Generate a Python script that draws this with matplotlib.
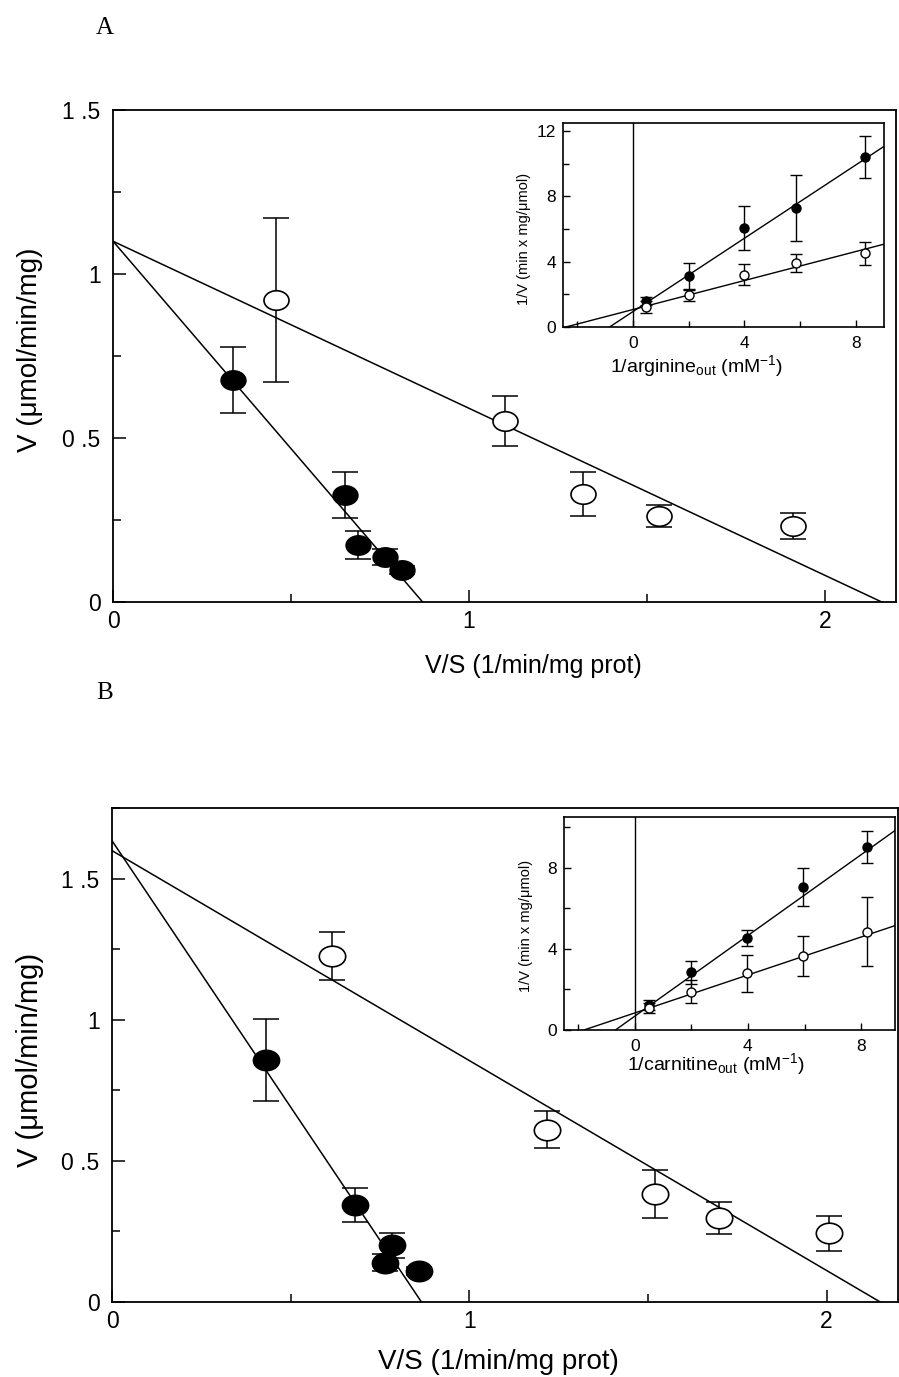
import matplotlib
matplotlib.use('Agg')
import matplotlib.pyplot as plt
import numpy as np
from matplotlib.path import Path
from matplotlib.transforms import Affine2D
from matplotlib.ticker import MultipleLocator

plt.rcParams['font.family'] = ['Liberation Sans', 'DejaVu Sans']
plt.rcParams['mathtext.fontset'] = 'custom'
plt.rcParams['mathtext.rm'] = 'Liberation Sans'
plt.rcParams['mathtext.it'] = 'Liberation Sans'

# ---- panel A (arginine), Eadie-Hofstee ----
a_filled_x = [0.336, 0.652, 0.688, 0.764, 0.812]
a_filled_y = [0.677, 0.326, 0.174, 0.137, 0.098]
a_filled_err = [0.100, 0.070, 0.043, 0.025, 0.012]
a_open_x = [0.457, 1.100, 1.320, 1.535, 1.910]
a_open_y = [0.921, 0.552, 0.329, 0.262, 0.232]
a_open_err = [0.250, 0.077, 0.068, 0.034, 0.040]
# (y intercept, x intercept)
a_filled_fit = (1.10, 0.87)
a_open_fit = (1.10, 2.16)

# inset A, Lineweaver-Burk
ia_x = [0.48, 2.0, 4.0, 5.84, 8.33]
ia_filled_y = [1.57, 3.1, 6.08, 7.29, 10.4]
ia_filled_err = [0.25, 0.8, 1.35, 2.05, 1.3]
ia_open_y = [1.22, 1.94, 3.2, 3.94, 4.53]
ia_open_err = [0.35, 0.33, 0.65, 0.54, 0.7]
# (intercept, slope)
ia_filled_fit = (0.94, 1.125)
ia_open_fit = (1.07, 0.445)

# ---- panel B (carnitine) ----
b_filled_x = [0.430, 0.679, 0.785, 0.765, 0.860]
b_filled_y = [0.858, 0.345, 0.201, 0.139, 0.109]
b_filled_err = [0.145, 0.060, 0.045, 0.030, 0.015]
b_open_x = [0.615, 1.218, 1.520, 1.698, 2.006]
b_open_y = [1.225, 0.610, 0.384, 0.296, 0.244]
b_open_err = [0.085, 0.065, 0.085, 0.057, 0.062]
b_filled_fit = (1.634, 0.866)
b_open_fit = (1.599, 2.15)

ib_x = [0.52, 1.99, 3.98, 5.94, 8.2]
ib_filled_y = [1.23, 2.84, 4.52, 7.06, 9.03]
ib_filled_err = [0.25, 0.55, 0.4, 0.93, 0.8]
ib_open_y = [1.07, 1.89, 2.79, 3.65, 4.84]
ib_open_err = [0.25, 0.55, 0.93, 1.0, 1.7]
ib_filled_fit = (0.68, 0.995)
ib_open_fit = (0.84, 0.468)

ellipse = Path.unit_circle().transformed(Affine2D().scale(1.0, 0.78))


def main_panel(ax, fx, fy, ferr, ox, oy, oerr, ffit, ofit, ymax, ms):
    for vmax, xint in (ffit, ofit):
        ax.plot([0, xint], [vmax, 0], color='k', lw=1.1, zorder=2)
    ax.errorbar(fx, fy, yerr=ferr, fmt='none', ecolor='k', elinewidth=1.1,
                capsize=9.5, capthick=1.1, zorder=3)
    ax.errorbar(ox, oy, yerr=oerr, fmt='none', ecolor='k', elinewidth=1.1,
                capsize=9.5, capthick=1.1, zorder=3)
    ax.plot(fx, fy, ls='none', marker=ellipse, ms=ms, mfc='k', mec='k', zorder=4)
    ax.plot(ox, oy, ls='none', marker=ellipse, ms=ms, mfc='white', mec='k',
            mew=1.2, zorder=4)
    ax.set_xlim(0, 2.2)
    ax.set_ylim(0, ymax)
    ax.set_xticks([0, 1, 2])
    ax.set_xticklabels(['0', '1', '2'])
    ax.xaxis.set_minor_locator(MultipleLocator(0.5))
    ax.set_yticks([0, 0.5, 1, 1.5])
    ax.set_yticklabels(['0', '0 .5', '1', '1 .5'])
    ax.yaxis.set_minor_locator(MultipleLocator(0.25))
    ax.tick_params(which='both', direction='in', top=False, right=False,
                   labelsize=16.5, width=1.1)
    ax.tick_params(which='major', length=9)
    ax.tick_params(which='minor', length=6)
    ax.tick_params(axis='x', which='major', pad=5.5)
    ax.tick_params(axis='y', which='major', pad=9)
    for s in ax.spines.values():
        s.set_linewidth(1.3)


def inset_panel(ax, x, fy, ferr, oy, oerr, ffit, ofit, xlim, ylim, xlabel,
                xlab_pos, ylab_pos):
    ax.axvline(0, color='k', lw=1.0)
    for b, m in (ffit, ofit):
        x0 = -b / m
        ax.plot([x0, xlim[1]], [0, b + m * xlim[1]], color='k', lw=1.0, zorder=2)
    ax.errorbar(x, fy, yerr=ferr, fmt='none', ecolor='k', elinewidth=1.0,
                capsize=4, capthick=1.0, zorder=3)
    ax.errorbar(x, oy, yerr=oerr, fmt='none', ecolor='k', elinewidth=1.0,
                capsize=4, capthick=1.0, zorder=3)
    ax.plot(x, fy, ls='none', marker='o', ms=6.5, mfc='k', mec='k', zorder=4)
    ax.plot(x, oy, ls='none', marker='o', ms=6.5, mfc='white', mec='k',
            mew=1.0, zorder=4)
    ax.set_xlim(*xlim)
    ax.set_ylim(*ylim)
    ax.xaxis.set_major_locator(MultipleLocator(4))
    ax.xaxis.set_minor_locator(MultipleLocator(2))
    ax.yaxis.set_major_locator(MultipleLocator(4))
    ax.yaxis.set_minor_locator(MultipleLocator(2))
    ax.tick_params(which='both', direction='in', top=False, right=False,
                   labelsize=12.5, width=1.0)
    ax.tick_params(which='major', length=5)
    ax.tick_params(which='minor', length=4)
    ax.tick_params(axis='x', which='major', pad=6.5)
    ax.tick_params(axis='y', which='major', pad=5)
    ax.set_ylabel('1/V (min x mg/\u03bcmol)', fontsize=10.5)
    ax.set_xlabel(xlabel, fontsize=14)
    ax.xaxis.set_label_coords(*xlab_pos)
    ax.yaxis.set_label_coords(*ylab_pos)
    for s in ax.spines.values():
        s.set_linewidth(1.2)


fig = plt.figure(figsize=(8.99, 13.77), dpi=100)

ax_a = fig.add_axes([0.1257, 0.5628, 0.8710, 0.3573])
main_panel(ax_a, a_filled_x, a_filled_y, a_filled_err, a_open_x, a_open_y,
           a_open_err, a_filled_fit, a_open_fit, 1.5, 18)

ax_b = fig.add_axes([0.1246, 0.0545, 0.8743, 0.3587])
main_panel(ax_b, b_filled_x, b_filled_y, b_filled_err, b_open_x, b_open_y,
           b_open_err, b_filled_fit, b_open_fit, 1.75, 19)

ins_a = fig.add_axes([0.6263, 0.7625, 0.3570, 0.1482])
inset_panel(ins_a, ia_x, ia_filled_y, ia_filled_err, ia_open_y, ia_open_err,
            ia_filled_fit, ia_open_fit, (-2.5, 9.0), (0, 12.5),
            '1/arginine$_{\\mathrm{out}}$ (mM$^{-1}$)',
            (0.417, -0.13), (-0.10, 0.43))

ins_b = fig.add_axes([0.6274, 0.2520, 0.3682, 0.1547])
inset_panel(ins_b, ib_x, ib_filled_y, ib_filled_err, ib_open_y, ib_open_err,
            ib_filled_fit, ib_open_fit, (-2.5, 9.2), (0, 10.5),
            '1/carnitine$_{\\mathrm{out}}$ (mM$^{-1}$)',
            (0.459, -0.10), (-0.095, 0.49))

# axis titles placed like the original
fig.text(533 / 899, 1 - 666 / 1377, 'V/S (1/min/mg prot)', fontsize=18,
         ha='center', va='center')
fig.text(498 / 899, 1 - 1362 / 1377, 'V/S (1/min/mg prot)', fontsize=20,
         ha='center', va='center')
fig.text(30 / 899, 1 - 350 / 1377, 'V (\u03bcmol/min/mg)', fontsize=20,
         rotation=90, ha='center', va='center')
fig.text(30 / 899, 1 - 1060 / 1377, 'V (\u03bcmol/min/mg)', fontsize=21,
         rotation=90, ha='center', va='center')

fig.text(105 / 899, 1 - 28 / 1377, 'A', fontsize=18, family='Liberation Serif',
         ha='center', va='center')
fig.text(105 / 899, 1 - 693 / 1377, 'B', fontsize=18, family='Liberation Serif',
         ha='center', va='center')

fig.savefig('out.png', dpi=100)
